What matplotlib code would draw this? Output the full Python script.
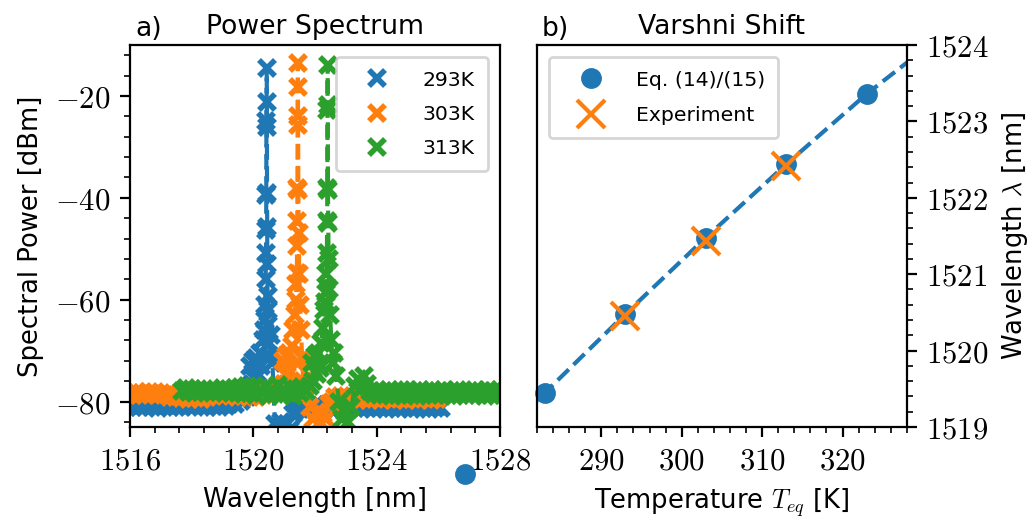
import numpy as np
import matplotlib
matplotlib.use('Agg')
import matplotlib.pyplot as plt
from matplotlib.lines import Line2D
from matplotlib.ticker import MultipleLocator, AutoMinorLocator, FuncFormatter

plt.rcParams['font.family'] = ['DejaVu Sans']
plt.rcParams['mathtext.fontset'] = 'cm'
plt.rcParams['font.size'] = 9.3

# ---- a) power spectra ----
step = 0.1  # nm, sampling of the noise floor

# 293 K
floor_l_293_start = 1515.8
floor_l_293 = [-80.5, -81.1, -80.6, -81.0, -80.4, -81.1, -80.7, -81.0, -80.5, -81.1,
               -80.6, -81.2, -80.4, -80.9, -80.6, -81.1, -80.4, -81.0, -80.7, -81.1,
               -80.5, -80.9, -80.3, -80.9, -80.5, -81.0, -80.6, -81.1, -80.4, -80.9,
               -80.5, -81.0, -80.3, -80.8, -80.4, -79.8, -80.5, -79.2, -79.9, -78.3,
               -79.2]
peak_wl_293 = [1519.85, 1519.9, 1519.95, 1520.0, 1520.05, 1520.1, 1520.15, 1520.2, 1520.25,
               1520.3, 1520.35,
               1520.37, 1520.39, 1520.40, 1520.41, 1520.415, 1520.42, 1520.425, 1520.43,
               1520.435, 1520.44, 1520.445, 1520.45, 1520.455, 1520.46, 1520.47, 1520.49,
               1520.52, 1520.55, 1520.58, 1520.62,
               1520.7, 1520.8, 1520.9, 1521.0, 1521.1, 1521.2, 1521.3]
peak_p_293 = [-77.5, -73.0, -76.5, -72.0, -75.5, -71.5, -74.5, -70.5, -73.0, -68.0, -66.0,
              -64.0, -61.0, -56.0, -50.8, -46.3, -39.5, -25.0, -21.1, -14.6, -26.0,
              -39.0, -45.8, -53.0, -59.3, -62.0, -65.0, -68.5, -71.0, -67.0, -72.5,
              -84.5, -86.0, -84.0, -86.0, -84.5, -85.5, -82.5]
floor_r_293_start = 1521.4
floor_r_293 = [-81.6, -81.0, -80.6, -81.3, -80.8, -81.4, -80.7, -81.3, -80.8, -81.4,
               -80.7, -81.2, -80.6, -81.3, -80.9, -81.4, -80.8, -81.2, -80.6, -81.3,
               -80.8, -81.4, -80.7, -81.2, -80.9, -81.3, -80.8, -81.3, -80.8, -81.4,
               -80.9, -81.3, -80.7, -81.3, -80.8, -81.2, -80.6, -81.4, -80.9, -81.3,
               -80.8, -81.3, -80.8, -81.4, -80.9, -81.3, -80.8, -81.2]

# 303 K
floor_l_303_start = 1515.8
floor_l_303 = [-78.2, -78.7, -78.3, -78.8, -78.1, -78.7, -78.4, -78.8, -78.2, -78.6,
               -78.1, -78.7, -78.3, -78.7, -78.5, -79.1, -78.6, -79.2, -78.9, -79.4,
               -79.0, -79.5, -78.8, -79.4, -78.9, -79.5, -78.6, -79.2, -78.4, -79.0,
               -78.2, -78.7, -78.0, -78.8, -78.3, -79.0, -78.4, -79.1, -78.6, -79.0,
               -78.3, -79.1, -78.5, -79.2, -78.2, -78.8, -78.0, -78.6, -77.6, -78.2,
               -77.2]
peak_wl_303 = [1520.9, 1520.95, 1521.0, 1521.05, 1521.1, 1521.15, 1521.2, 1521.25, 1521.3,
               1521.35,
               1521.38, 1521.40, 1521.41, 1521.42, 1521.425, 1521.43, 1521.435, 1521.44,
               1521.445, 1521.45, 1521.46, 1521.47, 1521.49, 1521.52, 1521.55, 1521.58,
               1521.62, 1521.66, 1521.7, 1521.75,
               1521.85, 1521.95, 1522.05, 1522.15, 1522.25, 1522.35, 1522.45]
peak_p_303 = [-77.5, -72.0, -76.5, -71.0, -75.0, -70.5, -74.0, -69.0, -66.0, -63.0,
              -60.0, -57.0, -54.7, -49.5, -44.6, -38.1, -25.7, -18.2, -13.6, -24.0,
              -38.5, -47.0, -55.0, -61.0, -66.0, -71.5, -76.0, -71.0, -77.0, -72.0,
              -81.0, -83.5, -82.0, -84.0, -82.5, -83.5, -80.5]
floor_r_303_start = 1522.55
floor_r_303 = [-80.0, -79.2, -79.7, -79.0, -79.5, -79.0, -79.6, -79.1, -79.6, -78.9,
               -79.4, -79.0, -79.6, -79.2, -79.5, -78.9, -79.6, -79.1, -79.4, -79.0,
               -79.6, -79.2, -79.5, -79.3, -79.6, -79.0, -79.5, -79.1, -79.6, -79.2,
               -79.4, -79.0, -79.6, -79.2, -79.5]

# 313 K
floor_l_313_start = 1517.7
floor_l_313 = [-77.9, -77.4, -78.1, -77.5, -78.3, -77.6, -78.1, -77.5, -78.2, -77.7,
               -78.3, -77.8, -78.2, -77.4, -78.0, -77.6, -78.4, -77.3, -78.3, -77.2,
               -78.6, -77.0, -78.4, -77.4, -78.8, -77.8, -78.3, -77.0, -79.0, -77.5,
               -78.6, -76.8, -78.8, -77.8, -78.4, -77.2, -79.0, -77.6, -78.4, -77.3,
               -78.0]
peak_wl_313 = [1521.85, 1521.9, 1521.95, 1522.0, 1522.05, 1522.1, 1522.15, 1522.2, 1522.25,
               1522.3,
               1522.33, 1522.35, 1522.37, 1522.385, 1522.395, 1522.40, 1522.405, 1522.41,
               1522.415, 1522.42, 1522.43, 1522.44, 1522.46, 1522.49, 1522.53, 1522.57,
               1522.62, 1522.68,
               1522.78, 1522.88, 1522.98, 1523.08, 1523.18,
               1523.3, 1523.4, 1523.5, 1523.6, 1523.7, 1523.8, 1523.9]
peak_p_313 = [-77.0, -72.5, -76.0, -71.0, -74.5, -70.5, -73.5, -68.5, -65.5, -62.0,
              -60.5, -58.6, -55.0, -50.8, -44.6, -38.1, -22.7, -13.9, -21.8, -38.5,
              -45.0, -52.0, -58.0, -63.0, -68.0, -72.5, -70.5, -75.0,
              -80.0, -83.5, -82.0, -84.0, -81.0,
              -77.0, -75.5, -77.5, -75.0, -76.5, -78.0, -78.5]
floor_r_313_start = 1524.0
floor_r_313 = [-77.8, -78.8, -77.9, -78.7, -77.7, -78.9, -78.0, -78.7, -77.8, -78.8,
               -77.8, -78.7, -78.0, -78.9, -77.8, -78.7, -77.9, -78.8, -77.8, -78.7,
               -78.0, -78.8, -77.8, -78.7, -77.9, -78.9, -77.8, -78.7, -78.0, -78.7,
               -77.9, -78.8, -77.8, -78.7, -77.9, -78.9, -77.8, -78.7, -78.0, -78.8,
               -77.8, -78.7, -77.9, -78.8, -77.8, -78.7]

labels = ['293K', '303K', '313K']
colors = ['#1f77b4', '#ff7f0e', '#2ca02c']

# ---- b) Varshni shift ----
eq_T = [273, 283, 293, 303, 313, 323]
eq_lam = [1518.38, 1519.45, 1520.48, 1521.48, 1522.44, 1523.36]
exp_T = [293, 303, 313]
exp_lam = [1520.45, 1521.43, 1522.41]
fit_T = [273, 283, 293, 303, 313, 323, 333]
fit_lam = [1518.38, 1519.45, 1520.48, 1521.48, 1522.44, 1523.36, 1524.18]


def trace(l_start, l_p, pk_wl, pk_p, r_start, r_p):
    wl = np.concatenate([l_start + step * np.arange(len(l_p)), pk_wl,
                         r_start + step * np.arange(len(r_p))])
    return wl, np.concatenate([l_p, pk_p, r_p])


spectra = [
    trace(floor_l_293_start, floor_l_293, peak_wl_293, peak_p_293, floor_r_293_start, floor_r_293),
    trace(floor_l_303_start, floor_l_303, peak_wl_303, peak_p_303, floor_r_303_start, floor_r_303),
    trace(floor_l_313_start, floor_l_313, peak_wl_313, peak_p_313, floor_r_313_start, floor_r_313),
]

math_fmt = FuncFormatter(lambda v, p: r'$%g$' % v)

fig = plt.figure(figsize=(5.18, 2.605), dpi=200)
ax1 = fig.add_axes([0.1255, 0.1804, 0.3571, 0.7332])
ax2 = fig.add_axes([0.5183, 0.1804, 0.3571, 0.7332])

handles = []
for (wl, p), c, lab in zip(spectra, colors, labels):
    ax1.plot(wl, p, ls='--', lw=1.5, marker='x', ms=6, mew=2.0, color=c)
    handles.append(Line2D([], [], ls='none', marker='x', ms=6, mew=2.0, color=c, label=lab))

ax1.set_xlim(1516, 1528)
ax1.set_ylim(-85, -10)
ax1.xaxis.set_major_locator(MultipleLocator(4))
ax1.xaxis.set_minor_locator(AutoMinorLocator(5))
ax1.yaxis.set_major_locator(MultipleLocator(20))
ax1.yaxis.set_minor_locator(AutoMinorLocator(5))
ax1.xaxis.set_major_formatter(math_fmt)
ax1.yaxis.set_major_formatter(math_fmt)
ax1.tick_params(labelsize=11.1)
ax1.set_xlabel('Wavelength [nm]')
ax1.set_ylabel('Spectral Power [dBm]')
ax1.set_title('Power Spectrum', fontsize=9.6, pad=4)
ax1.text(0.0135, 1.008, 'a)', fontsize=9.6, transform=ax1.transAxes, ha='left', va='bottom')
ax1.legend(handles=handles, loc='upper right', fontsize=7.35, handlelength=2.8,
           labelspacing=0.75, borderpad=0.65, borderaxespad=0.6)

ax2.plot(fit_T, fit_lam, ls='--', lw=1.5, color=colors[0])
ax2.plot(eq_T, eq_lam, ls='none', marker='o', ms=6.5, color=colors[0],
         clip_on=False, label='Eq. (14)/(15)')
ax2.plot(exp_T, exp_lam, ls='none', marker='x', ms=10, mew=1.5, color=colors[1],
         label='Experiment')
ax2.set_xlim(282, 328)
ax2.set_ylim(1519, 1524)
ax2.xaxis.set_major_locator(MultipleLocator(10))
ax2.xaxis.set_minor_locator(AutoMinorLocator(5))
ax2.yaxis.set_major_locator(MultipleLocator(1))
ax2.yaxis.set_minor_locator(AutoMinorLocator(5))
ax2.xaxis.set_major_formatter(math_fmt)
ax2.yaxis.set_major_formatter(math_fmt)
ax2.yaxis.tick_right()
ax2.yaxis.set_label_position('right')
ax2.tick_params(labelsize=11.1)
ax2.set_xlabel(r'Temperature $T_{eq}$ [K]')
ax2.set_ylabel(r'Wavelength $\lambda$ [nm]')
ax2.set_title('Varshni Shift', fontsize=9.6, pad=4)
ax2.text(0.013, 1.008, 'b)', fontsize=9.6, transform=ax2.transAxes, ha='left', va='bottom')
ax2.legend(loc='upper left', fontsize=7.35, handlelength=2.8, labelspacing=0.8,
           borderpad=0.65, borderaxespad=0.6)

fig.savefig('out.png', dpi=200)
